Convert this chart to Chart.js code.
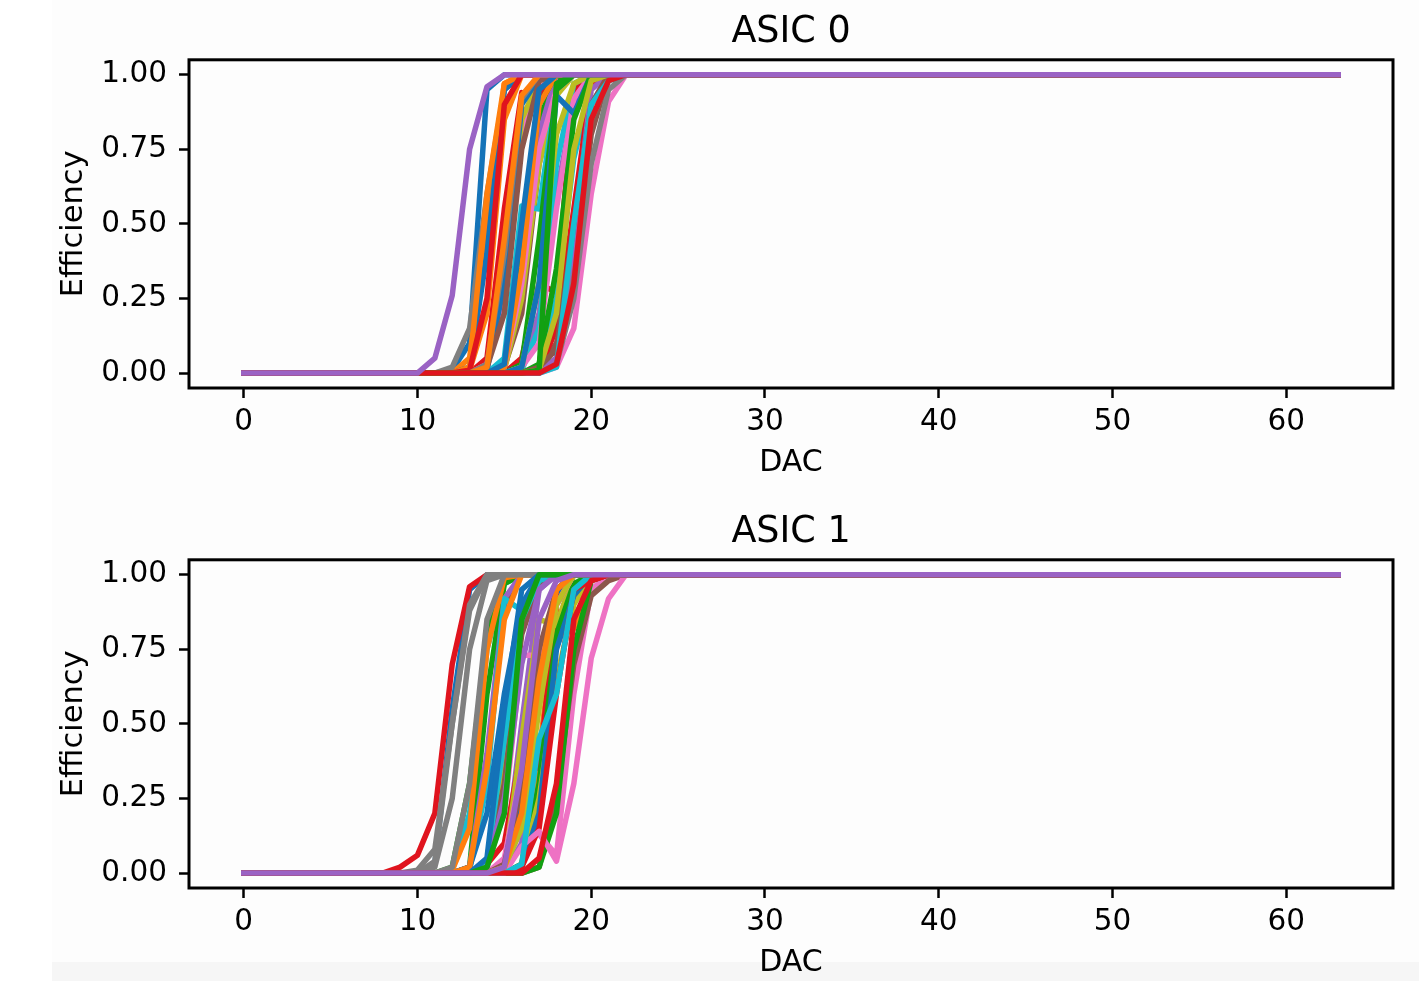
<!DOCTYPE html>
<html>
<head>
<meta charset="utf-8">
<script src="https://cdn.jsdelivr.net/npm/chart.js@4.4.1/dist/chart.umd.min.js"></script>
<style>
  html, body { margin: 0; padding: 0; background: #ffffff; overflow: hidden; }
  #page { position: relative; width: 1419px; height: 981px; }
  #panel { position: absolute; left: 52px; top: 0; width: 1367px; height: 981px; background: #fdfdfd; }
  #strip { position: absolute; left: 52px; top: 962px; width: 1367px; height: 19px; background: #f6f6f6; }
  .box { position: absolute; left: 0; width: 1419px; height: 486px; }
</style>
</head>
<body>
<div id="page">
  <div id="panel"></div>
  <div id="strip"></div>
  <div class="box" style="top:0"><canvas id="asic0" width="1419" height="486"></canvas></div>
  <div class="box" style="top:500px"><canvas id="asic1" width="1419" height="486"></canvas></div>
</div>
<script>
// Eje X: valores DAC 0..63
const dacValues = Array.from({ length: 64 }, (_, i) => i);
const xTicks = [0, 10, 20, 30, 40, 50, 60];
const yTicks = [0, 0.25, 0.5, 0.75, 1];

// Colores (ciclo tab10)
const lineColors = ['#1473b8', '#ff7f0e', '#12a012', '#e0141e', '#9a62c4',
                    '#8c564b', '#ee72c4', '#808080', '#bcbd22', '#17bed2'];

// ASIC 0: primer DAC de la subida y valores leidos durante la subida
// (antes de la subida = 0, despues = 1)
const asic0Start = [12, 13, 15, 14, 15, 15, 14, 12, 15, 15,
                    13, 13, 15, 16, 16, 17, 15, 17, 14, 16,
                    14, 13, 16, 13, 17, 14, 16, 14, 16, 17,
                    16, 15, 17, 17, 18, 17, 17, 18, 17, 18,
                    15, 14, 17, 18, 10];
const asic0Ramp = [
  [0.01, 0.1, 0.95, 1],
  [0.05, 0.5, 0.97, 1],
  [0.03, 0.35, 0.85, 0.99, 1],
  [0.05, 0.55, 0.94, 0.92, 1],
  [0.02, 0.3, 0.8, 1],
  [0.02, 0.2, 0.7, 0.95, 1],
  [0.03, 0.25, 0.8, 0.97, 1],
  [0.02, 0.15, 0.6, 0.95, 1],
  [0.01, 0.25, 0.7, 0.93, 1],
  [0.05, 0.56, 0.55, 0.95, 1],
  [0.02, 0.4, 0.95, 1],
  [0.01, 0.2, 0.85, 1],
  [0.02, 0.4, 0.9, 1],
  [0.05, 0.3, 0.27, 0.95, 1],
  [0.02, 0.2, 0.6, 0.9, 1],
  [0.02, 0.1, 0.3, 0.8, 1],
  [0.02, 0.3, 0.75, 0.95, 1],
  [0.01, 0.05, 0.4, 0.85, 0.98, 1],
  [0.02, 0.35, 0.85, 0.98, 1],
  [0.01, 0.15, 0.7, 0.97, 1],
  [0.01, 0.3, 0.9, 0.99, 1],
  [0.02, 0.6, 0.97, 1],
  [0.03, 0.45, 0.95, 1],
  [0.01, 0.25, 0.9, 1],
  [0.02, 0.2, 0.5, 0.9, 1],
  [0.02, 0.2, 0.75, 0.98, 1],
  [0.02, 0.1, 0.55, 0.92, 1],
  [0.03, 0.4, 0.92, 1],
  [0.02, 0.3, 0.8, 0.97, 1],
  [0.02, 0.25, 0.72, 0.96, 1],
  [0.02, 0.3, 0.93, 0.87, 1],
  [0.02, 0.35, 0.9, 1],
  [0.03, 0.35, 0.85, 1],
  [0.01, 0.15, 0.55, 0.97, 1],
  [0.05, 0.45, 0.95, 1],
  [0.02, 0.08, 0.5, 0.9, 1],
  [0, 0.02, 0.15, 0.6, 0.91, 1],
  [0.03, 0.25, 0.7, 0.95, 1],
  [0.01, 0.2, 0.75, 0.98, 1],
  [0.02, 0.5, 0.9, 0.98, 1],
  [0.03, 0.5, 0.95, 1],
  [0.02, 0.45, 0.93, 1],
  [0.01, 0.97, 1],
  [0.03, 0.3, 0.85, 0.98, 1],
  [0, 0.05, 0.26, 0.75, 0.96, 1]
];

// ASIC 1
const asic1Start = [11, 14, 12, 8, 15, 13, 15, 10, 14, 12,
                    15, 16, 13, 14, 13, 17, 14, 11, 15, 13,
                    13, 12, 16, 15, 16, 14, 15, 11, 16, 14,
                    16, 13, 17, 16, 14, 15, 15, 12, 15, 16,
                    14, 15, 14, 17, 15];
const asic1Ramp = [
  [0.03, 0.55, 0.95, 1],
  [0.02, 0.4, 0.9, 0.97, 1],
  [0.02, 0.3, 0.8, 1],
  [0, 0.02, 0.06, 0.2, 0.7, 0.96, 1],
  [0.02, 0.5, 0.95, 1],
  [0.02, 0.35, 0.9, 1],
  [0.02, 0.15, 0.13, 0.06, 0.6, 0.95, 1],
  [0.01, 0.08, 0.5, 0.88, 1],
  [0.02, 0.35, 0.85, 0.98, 1],
  [0.01, 0.2, 0.75, 0.97, 1],
  [0.03, 0.25, 0.7, 0.93, 1],
  [0.03, 0.4, 0.88, 0.82, 1],
  [0.02, 0.6, 0.97, 1],
  [0.03, 0.1, 0.42, 0.35, 0.9, 1],
  [0.02, 0.4, 0.92, 1],
  [0.02, 0.25, 0.7, 0.93, 0.98, 1],
  [0.03, 0.2, 0.73, 0.73, 0.95, 1],
  [0.02, 0.25, 0.75, 0.98, 1],
  [0.02, 0.45, 0.85, 0.83, 1],
  [0.01, 0.3, 0.92, 0.88, 1],
  [0.02, 0.2, 0.6, 0.9, 1],
  [0.01, 0.15, 0.75, 0.99, 1],
  [0.03, 0.3, 0.8, 0.97, 1],
  [0.01, 0.2, 0.6, 0.95, 1],
  [0.1, 0.65, 0.9, 1],
  [0.02, 0.3, 0.8, 0.97, 1],
  [0.05, 0.35, 0.6, 0.9, 1],
  [0.04, 0.5, 0.9, 1],
  [0.02, 0.25, 0.65, 0.9, 1],
  [0.04, 0.45, 0.85, 0.98, 1],
  [0.02, 0.2, 0.75, 0.93, 1],
  [0.02, 0.35, 0.85, 1],
  [0.02, 0.2, 0.75, 0.98, 1],
  [0.02, 0.15, 0.6, 0.95, 0.98, 1],
  [0.02, 0.25, 0.7, 0.95, 1],
  [0.03, 0.3, 0.75, 0.95, 1],
  [0, 0.09, 0.14, 0.04, 0.3, 0.72, 0.92, 1],
  [0.02, 0.3, 0.85, 1],
  [0.02, 0.15, 0.55, 0.9, 1],
  [0.03, 0.45, 0.6, 0.95, 1],
  [0.05, 0.55, 0.95, 1],
  [0.02, 0.2, 0.65, 0.95, 1],
  [0.02, 0.2, 0.85, 1],
  [0.05, 0.3, 0.85, 0.98, 1],
  [0.02, 0.35, 0.85, 0.98, 1]
];

const FONT = 'DejaVu Sans';

// Curva completa: 0 antes de la subida, 1 despues
function buildCurve(start, ramp) {
    return dacValues.map(d => {
        if (d < start) return { x: d, y: 0 };
        const k = d - start;
        return { x: d, y: k < ramp.length ? ramp[k] : 1 };
    });
}

// Marco negro alrededor del area del grafico
const frameBox = {
    id: 'frameBox',
    afterDatasetsDraw(chart) {
        const a = chart.chartArea;
        const ctx = chart.ctx;
        ctx.save();
        ctx.strokeStyle = '#000';
        ctx.lineWidth = 3;
        ctx.strokeRect(a.left, a.top, a.right - a.left, a.bottom - a.top);
        ctx.restore();
    }
};

function createAsicChart(canvasId, title, starts, ramps) {
    // el ultimo dataset se dibuja encima (como en matplotlib)
    const datasets = starts.map((s, i) => ({
        data: buildCurve(s, ramps[i]),
        order: starts.length - i,
        borderColor: lineColors[i % lineColors.length],
        borderWidth: 5.5,
        borderJoinStyle: 'round',
        borderCapStyle: 'square',
        pointRadius: 0,
        tension: 0,
        fill: false
    }));

    return new Chart(document.getElementById(canvasId), {
        type: 'line',
        data: { datasets: datasets },
        options: {
            responsive: false,
            animation: false,
            devicePixelRatio: 1,
            layout: { padding: { left: 0, right: 26, top: 0, bottom: 0 } },
            plugins: {
                legend: { display: false },
                tooltip: { enabled: false },
                title: {
                    display: true,
                    fullSize: false,
                    text: title,
                    color: '#000',
                    font: { family: FONT, size: 36.5, weight: 'normal' },
                    padding: { top: 11, bottom: 5 }
                }
            },
            scales: {
                x: {
                    type: 'linear',
                    min: -3.15,
                    max: 66.15,
                    afterBuildTicks: scale => { scale.ticks = xTicks.map(v => ({ value: v })); },
                    afterFit: scale => { scale.height = 98; },
                    grid: { drawOnChartArea: false, drawTicks: true, tickLength: 10, tickWidth: 2.5, tickColor: '#000' },
                    border: { display: false },
                    ticks: { color: '#000', padding: 7, maxRotation: 0, font: { family: FONT, size: 29.5 } },
                    title: {
                        display: true, text: 'DAC', color: '#000',
                        font: { family: FONT, size: 30 },
                        padding: { top: 0, bottom: 5 }
                    }
                },
                y: {
                    min: -0.05,
                    max: 1.05,
                    afterBuildTicks: scale => { scale.ticks = yTicks.map(v => ({ value: v })); },
                    afterFit: scale => { scale.width = 189; },
                    grid: { drawOnChartArea: false, drawTicks: true, tickLength: 10, tickWidth: 2.5, tickColor: '#000' },
                    border: { display: false },
                    ticks: {
                        color: '#000', padding: 12,
                        font: { family: FONT, size: 29.5 },
                        callback: v => Number(v).toFixed(2)
                    },
                    title: {
                        display: true, text: 'Efficiency', color: '#000',
                        font: { family: FONT, size: 30.5 },
                        padding: { top: 56, bottom: 0 }
                    }
                }
            }
        },
        plugins: [frameBox]
    });
}

createAsicChart('asic0', 'ASIC 0', asic0Start, asic0Ramp);
createAsicChart('asic1', 'ASIC 1', asic1Start, asic1Ramp);
</script>
</body>
</html>
